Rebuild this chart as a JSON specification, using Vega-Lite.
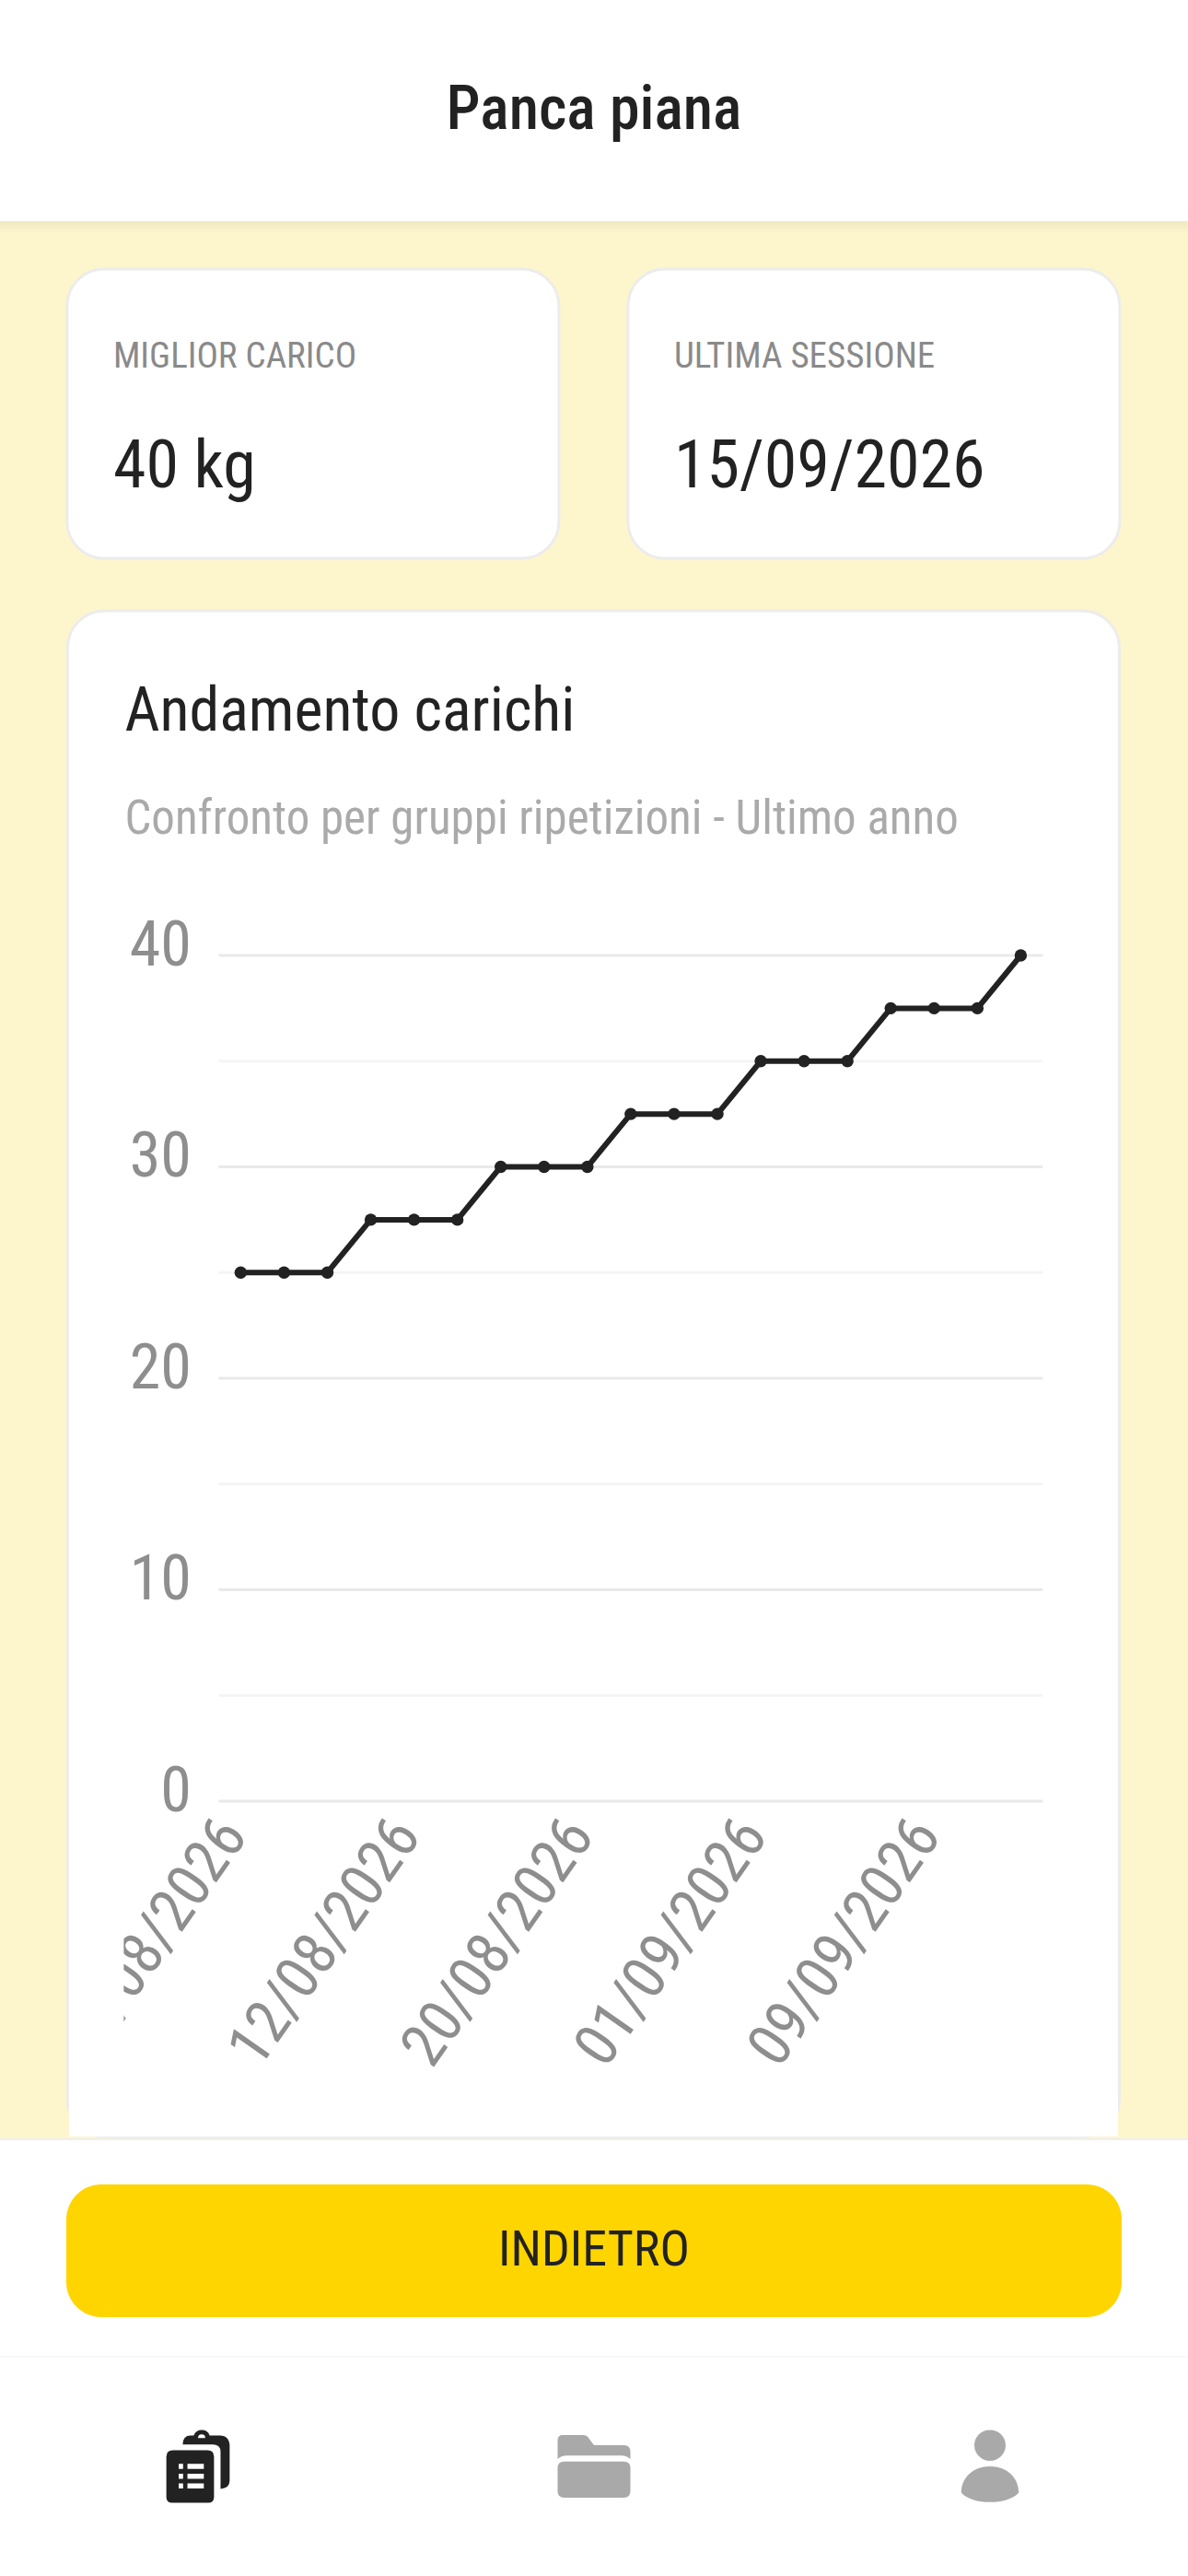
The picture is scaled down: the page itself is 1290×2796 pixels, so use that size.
{
  "$schema": "https://vega.github.io/schema/vega-lite/v6.json",
  "background": "#FDF5CC",
  "padding": 0,
  "spacing": 0,
  "center": true,
  "config": {
    "font": "Roboto Condensed",
    "view": {"stroke": null}
  },
  "datasets": {
    "carichi": [
      {"data": "04/08/2026", "kg": 25},
      {"data": "06/08/2026", "kg": 25},
      {"data": "08/08/2026", "kg": 25},
      {"data": "10/08/2026", "kg": 27.5},
      {"data": "12/08/2026", "kg": 27.5},
      {"data": "14/08/2026", "kg": 27.5},
      {"data": "16/08/2026", "kg": 30},
      {"data": "18/08/2026", "kg": 30},
      {"data": "20/08/2026", "kg": 30},
      {"data": "23/08/2026", "kg": 32.5},
      {"data": "26/08/2026", "kg": 32.5},
      {"data": "29/08/2026", "kg": 32.5},
      {"data": "01/09/2026", "kg": 35},
      {"data": "03/09/2026", "kg": 35},
      {"data": "05/09/2026", "kg": 35},
      {"data": "07/09/2026", "kg": 37.5},
      {"data": "09/09/2026", "kg": 37.5},
      {"data": "12/09/2026", "kg": 37.5},
      {"data": "15/09/2026", "kg": 40}
    ],
    "griglia": [{"kg": 0}, {"kg": 10}, {"kg": 20}, {"kg": 30}, {"kg": 40}],
    "griglia_minore": [{"kg": 5}, {"kg": 15}, {"kg": 25}, {"kg": 35}],
    "vuoto": [{"id": 1}],
    "miglior": [
      {"campo": "etichetta", "testo": "MIGLIOR CARICO"},
      {"campo": "valore", "testo": "40 kg"}
    ],
    "ultima": [
      {"campo": "etichetta", "testo": "ULTIMA SESSIONE"},
      {"campo": "valore", "testo": "15/09/2026"}
    ]
  },
  "vconcat": [
    {
      "width": 1290,
      "height": 240,
      "view": {"fill": "#FFFFFF"},
      "data": {"values": [{"testo": "Panca piana"}]},
      "mark": {"type": "text", "fontSize": 66, "fontWeight": 500, "color": "#222222", "baseline": "middle"},
      "encoding": {"text": {"field": "testo"}}
    },
    {"width": 1290, "height": 4, "view": {"fill": "#F1EAC3"}, "data": {"name": "vuoto"}, "mark": {"type": "point", "size": 0, "opacity": 0}, "encoding": {}},
    {"width": 1290, "height": 4, "view": {"fill": "#F6EEC7"}, "data": {"name": "vuoto"}, "mark": {"type": "point", "size": 0, "opacity": 0}, "encoding": {}},
    {
      "spacing": 38,
      "center": true,
      "vconcat": [
        {"width": 1290, "height": 4, "view": {"fill": "#FAF2CA"}, "data": {"name": "vuoto"}, "mark": {"type": "point", "size": 0, "opacity": 0}, "encoding": {}},
        {
          "spacing": 53,
          "center": true,
          "vconcat": [
            {
              "spacing": 71,
              "hconcat": [
                {
                  "width": 534,
                  "height": 314,
                  "view": {"fill": "#FFFFFF", "stroke": "#ECECEC", "strokeWidth": 3, "cornerRadius": 40},
                  "data": {"name": "miglior"},
                  "layer": [
                    {
                      "transform": [{"filter": "datum.campo == 'etichetta'"}],
                      "mark": {"type": "text", "align": "left", "dx": -217, "dy": -62, "fontSize": 39, "color": "#8A8A8A"},
                      "encoding": {"text": {"field": "testo"}}
                    },
                    {
                      "transform": [{"filter": "datum.campo == 'valore'"}],
                      "mark": {"type": "text", "align": "left", "dx": -217, "dy": 58, "fontSize": 72, "color": "#222222"},
                      "encoding": {"text": {"field": "testo"}}
                    }
                  ]
                },
                {
                  "width": 534,
                  "height": 314,
                  "view": {"fill": "#FFFFFF", "stroke": "#ECECEC", "strokeWidth": 3, "cornerRadius": 40},
                  "data": {"name": "ultima"},
                  "layer": [
                    {
                      "transform": [{"filter": "datum.campo == 'etichetta'"}],
                      "mark": {"type": "text", "align": "left", "dx": -217, "dy": -62, "fontSize": 39, "color": "#8A8A8A"},
                      "encoding": {"text": {"field": "testo"}}
                    },
                    {
                      "transform": [{"filter": "datum.campo == 'valore'"}],
                      "mark": {"type": "text", "align": "left", "dx": -217, "dy": 58, "fontSize": 72, "color": "#222222"},
                      "encoding": {"text": {"field": "testo"}}
                    }
                  ]
                }
              ]
            },
            {
              "width": 1142,
              "height": 1656,
              "view": {"fill": "#FFFFFF", "stroke": "#ECECEC", "strokeWidth": 3, "cornerRadius": 40},
              "title": {
                "text": "Andamento carichi",
                "subtitle": "Confronto per gruppi ripetizioni - Ultimo anno",
                "anchor": "start",
                "frame": "group",
                "dx": 62,
                "offset": -253,
                "fontSize": 66,
                "fontWeight": "normal",
                "color": "#222222",
                "subtitleFontSize": 51,
                "subtitleColor": "#AAAAAA",
                "subtitlePadding": 58
              },
              "layer": [
                {
                  "data": {"name": "griglia"},
                  "mark": {"type": "rule", "color": "#E9E9E9", "strokeWidth": 3, "xOffset": -24, "x2Offset": 24},
                  "encoding": {
                    "x": {
                      "datum": "04/08/2026",
                      "type": "ordinal",
                      "scale": {
                        "type": "point",
                        "padding": 0,
                        "range": [188, 1035],
                        "domain": ["04/08/2026", "06/08/2026", "08/08/2026", "10/08/2026", "12/08/2026", "14/08/2026", "16/08/2026", "18/08/2026", "20/08/2026", "23/08/2026", "26/08/2026", "29/08/2026", "01/09/2026", "03/09/2026", "05/09/2026", "07/09/2026", "09/09/2026", "12/09/2026", "15/09/2026"]
                      },
                      "axis": {
                        "title": null,
                        "values": ["04/08/2026", "12/08/2026", "20/08/2026", "01/09/2026", "09/09/2026"],
                        "labelExpr": "datum.label == '04/08/2026' ? '/08/2026' : datum.label",
                        "offset": -364,
                        "labelAngle": -55,
                        "labelAlign": "right",
                        "labelBaseline": "middle",
                        "labelPadding": 26,
                        "labelOffset": -8,
                        "labelFontSize": 66,
                        "labelColor": "#8E8E8E",
                        "labelLimit": 500,
                        "ticks": false,
                        "domain": false,
                        "grid": false
                      }
                    },
                    "x2": {"datum": "15/09/2026"},
                    "y": {
                      "field": "kg",
                      "type": "quantitative",
                      "scale": {"domain": [0, 40], "range": [1292, 374], "nice": false, "zero": false},
                      "axis": {
                        "title": null,
                        "values": [0, 10, 20, 30, 40],
                        "orient": "left",
                        "offset": -142,
                        "labelPadding": 8,
                        "labelOffset": -10,
                        "labelFontSize": 68,
                        "labelColor": "#8E8E8E",
                        "ticks": false,
                        "domain": false,
                        "grid": false
                      }
                    }
                  }
                },
                {
                  "data": {"name": "griglia_minore"},
                  "mark": {"type": "rule", "color": "#F4F4F4", "strokeWidth": 3, "xOffset": -24, "x2Offset": 24},
                  "encoding": {
                    "x": {"datum": "04/08/2026", "type": "ordinal"},
                    "x2": {"datum": "15/09/2026"},
                    "y": {"field": "kg", "type": "quantitative"}
                  }
                },
                {
                  "data": {"name": "carichi"},
                  "mark": {"type": "line", "color": "#222222", "strokeWidth": 6},
                  "encoding": {
                    "x": {"field": "data", "type": "ordinal", "sort": null},
                    "y": {"field": "kg", "type": "quantitative"}
                  }
                },
                {
                  "data": {"name": "carichi"},
                  "mark": {"type": "point", "filled": true, "opacity": 1, "color": "#222222", "size": 180},
                  "encoding": {
                    "x": {"field": "data", "type": "ordinal", "sort": null},
                    "y": {"field": "kg", "type": "quantitative"}
                  }
                },
                {
                  "data": {"name": "vuoto"},
                  "mark": {"type": "rect", "color": "#FFFFFF", "width": 57, "height": 300, "xOffset": -155.5},
                  "encoding": {
                    "x": {"datum": "04/08/2026", "type": "ordinal"},
                    "y": {"datum": -6}
                  }
                },
                {
                  "data": {"name": "vuoto"},
                  "mark": {"type": "rect", "color": "#FFFFFF", "width": 1139, "height": 40, "xOffset": -40.5, "yOffset": -22},
                  "encoding": {
                    "x": {"datum": "23/08/2026", "type": "ordinal"},
                    "y": {"datum": -15.95}
                  }
                }
              ]
            }
          ]
        }
      ]
    },
    {"width": 1290, "height": 2, "view": {"fill": "#EFEFEF"}, "data": {"name": "vuoto"}, "mark": {"type": "point", "size": 0, "opacity": 0}, "encoding": {}},
    {
      "width": 1290,
      "height": 234,
      "view": {"fill": "#FFFFFF"},
      "data": {"values": [{"testo": "INDIETRO"}]},
      "layer": [
        {"mark": {"type": "rect", "color": "#FFD500", "width": 1146, "height": 144, "cornerRadius": 38, "xOffset": -645, "yOffset": 120}, "encoding": {}},
        {"mark": {"type": "text", "fontSize": 54, "color": "#222222", "dy": 3}, "encoding": {"text": {"field": "testo"}}}
      ]
    },
    {"width": 1290, "height": 2, "view": {"fill": "#F9F9F9"}, "data": {"name": "vuoto"}, "mark": {"type": "point", "size": 0, "opacity": 0}, "encoding": {}},
    {
      "spacing": 0,
      "hconcat": [
        {
          "width": 430,
          "height": 236,
          "view": {"fill": "#FFFFFF"},
          "data": {"values": [{"icona": "schede"}]},
          "layer": [
            {"mark": {"type": "point", "filled": true, "opacity": 1, "color": "#222222", "size": 6241, "strokeWidth": 0, "shape": "M-0.42,-0.6 Q-0.42,-0.85 -0.2,-0.85 L-0.12,-0.85 Q-0.05,-1 0.1,-1 Q0.27,-1 0.32,-0.85 L0.6,-0.85 Q0.87,-0.85 0.87,-0.55 L0.87,0.4 Q0.87,0.6 0.62,0.62 L0.62,-0.4 Q0.62,-0.6 0.4,-0.6 Z"}, "encoding": {}},
            {"mark": {"type": "point", "filled": true, "opacity": 1, "color": "#FFFFFF", "size": 6241, "strokeWidth": 0, "shape": "M0,-0.78 Q0,-0.88 0.1,-0.88 Q0.2,-0.88 0.2,-0.78 Z"}, "encoding": {}},
            {"mark": {"type": "point", "filled": true, "opacity": 1, "color": "#222222", "size": 6241, "strokeWidth": 0, "shape": "M-0.87,-0.26 Q-0.87,-0.44 -0.69,-0.44 L0.26,-0.44 Q0.44,-0.44 0.44,-0.26 L0.44,0.84 Q0.44,1 0.28,1 L-0.71,1 Q-0.87,1 -0.87,0.84 Z"}, "encoding": {}},
            {"mark": {"type": "point", "filled": true, "opacity": 1, "color": "#FFFFFF", "size": 6241, "strokeWidth": 0, "shape": "M-0.53,-0.07 L-0.41,-0.07 L-0.41,0.07 L-0.53,0.07 Z M-0.29,-0.07 L0.16,-0.07 L0.16,0.07 L-0.29,0.07 Z M-0.53,0.2 L-0.41,0.2 L-0.41,0.34 L-0.53,0.34 Z M-0.29,0.2 L0.16,0.2 L0.16,0.34 L-0.29,0.34 Z M-0.53,0.47 L-0.41,0.47 L-0.41,0.61 L-0.53,0.61 Z M-0.29,0.47 L0.16,0.47 L0.16,0.61 L-0.29,0.61 Z"}, "encoding": {}}
          ]
        },
        {
          "width": 430,
          "height": 236,
          "view": {"fill": "#FFFFFF"},
          "data": {"values": [{"icona": "cartella"}]},
          "mark": {"type": "point", "filled": true, "opacity": 1, "color": "#A9A9A9", "size": 6241, "strokeWidth": 0, "shape": "M-1,-0.72 Q-1,-0.86 -0.86,-0.86 L-0.3,-0.86 Q-0.18,-0.86 -0.12,-0.74 L0,-0.58 L0.82,-0.58 Q1,-0.58 1,-0.4 L1,-0.2 Q0.9,-0.3 0.75,-0.3 L-0.75,-0.3 Q-0.9,-0.3 -1,-0.2 Z M-1,0.05 Q-1,-0.13 -0.82,-0.13 L0.82,-0.13 Q1,-0.13 1,0.05 L1,0.68 Q1,0.86 0.82,0.86 L-0.82,0.86 Q-1,0.86 -1,0.68 Z"},
          "encoding": {}
        },
        {
          "width": 430,
          "height": 236,
          "view": {"fill": "#FFFFFF"},
          "data": {"values": [{"icona": "profilo"}]},
          "mark": {"type": "point", "filled": true, "opacity": 1, "color": "#A9A9A9", "size": 6241, "strokeWidth": 0, "shape": "M-0.43,-0.58 C-0.43,-0.82 -0.24,-1 0,-1 C0.24,-1 0.43,-0.82 0.43,-0.58 C0.43,-0.34 0.24,-0.15 0,-0.15 C-0.24,-0.15 -0.43,-0.34 -0.43,-0.58 Z M-0.79,0.72 C-0.79,0.3 -0.45,0 0,0 C0.45,0 0.79,0.3 0.79,0.72 C0.5,1.07 -0.5,1.07 -0.79,0.72 Z"},
          "encoding": {}
        }
      ]
    }
  ]
}
